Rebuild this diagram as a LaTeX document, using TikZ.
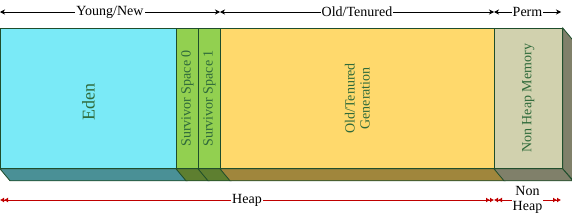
\documentclass[tikz,border=0pt]{standalone}
\usepackage{fontspec}
\setmainfont{Liberation Serif}
\usetikzlibrary{arrows.meta,positioning,calc}
\definecolor{bordc}{HTML}{1E4D2B}
\definecolor{txtc}{HTML}{2F6A3A}
\definecolor{edenf}{HTML}{7AEAF7}
\definecolor{edenb}{HTML}{4A9096}
\definecolor{survf}{HTML}{92D050}
\definecolor{survb}{HTML}{5E7F30}
\definecolor{oldf}{HTML}{FFD96C}
\definecolor{oldb}{HTML}{A0863C}
\definecolor{permf}{HTML}{D1D1AE}
\definecolor{permb}{HTML}{80806A}
\definecolor{heapc}{HTML}{C00000}

\begin{document}
\begin{tikzpicture}[x=1pt,y=-1pt,
    font=\fontsize{14}{16}\selectfont,
    seg/.style={draw=bordc, line width=0.8pt, inner sep=0pt, anchor=north west,
      minimum height=140pt},
    segtxt/.style={rotate=90, text=txtc, align=center, font=\fontsize{14}{15}\selectfont},
    span/.style={draw, line width=0.6pt, {Stealth[length=5pt,width=5pt]}-{Stealth[length=5pt,width=5pt]}},
    spantxt/.style={fill=white, inner sep=1pt},
    heap/.style={draw=heapc, line width=0.8pt,
      {Latex[length=4pt,width=5pt]Latex[length=4pt,width=5pt]}-{Latex[length=4pt,width=5pt]Latex[length=4pt,width=5pt]}},
    heaptxt/.style={fill=white, inner sep=1pt, align=center}
  ]
  \useasboundingbox (0,0) rectangle (572,220);
  % front faces
  \node[seg, fill=edenf, minimum width=176pt] (eden) at (0,28) {};
  \node[seg, fill=survf, minimum width=22pt] (s0) at (176,28) {};
  \node[seg, fill=survf, minimum width=22pt] (s1) at (198,28) {};
  \node[seg, fill=oldf, minimum width=274pt] (old) at (220,28) {};
  \node[seg, fill=permf, minimum width=68pt] (perm) at (494,28) {};
  % bottom faces
  \foreach \b/\c in {eden/edenb, s0/survb, s1/survb, old/oldb, perm/permb}
    \filldraw[fill=\c, draw=bordc, line width=0.8pt]
      (\b.south west) -- (\b.south east) -- ++(10,12)
      -- ($(\b.south west)+(10,12)$) -- cycle;
  % side face of perm
  \filldraw[fill=permb, draw=bordc, line width=0.8pt]
    (perm.north east) -- ++(10,12) -- ++(0,140) -- (perm.south east) -- cycle;
  % labels inside
  \node[segtxt, font=\fontsize{18}{20}\selectfont] (edenlbl) at ($(eden.center)+(0,4)$) {Eden};
  \node[segtxt] (s0lbl) at (s0.center) {Survivor Space 0};
  \node[segtxt] (s1lbl) at (s1.center) {Survivor Space 1};
  \node[segtxt] (oldlbl) at (old.center) {Old/Tenured\\Generation};
  \node[segtxt] (permlbl) at (perm.center) {Non Heap Memory};
  % top spans
  \coordinate (t0) at (0,12);
  \coordinate (t1) at (220,12);
  \coordinate (t2) at (494,12);
  \coordinate (t3) at (561,12);
  \path[span] (t0) -- node[spantxt] (younglbl) {Young/New} (t1);
  \path[span] (t1) -- node[spantxt] (tenlbl) {Old/Tenured} (t2);
  \path[span] (t2) -- node[spantxt] (permtop) {Perm} (t3);
  % bottom spans
  \coordinate (h0) at (0,200);
  \coordinate (h1) at (494,200);
  \coordinate (h2) at (561,200);
  \path[heap] (h0) -- node[heaptxt] (heaplbl) {Heap} (h1);
  \path[heap] (h1) -- node[heaptxt] (nonheaplbl) {Non\\[-1pt]Heap} (h2);
\end{tikzpicture}
\end{document}
